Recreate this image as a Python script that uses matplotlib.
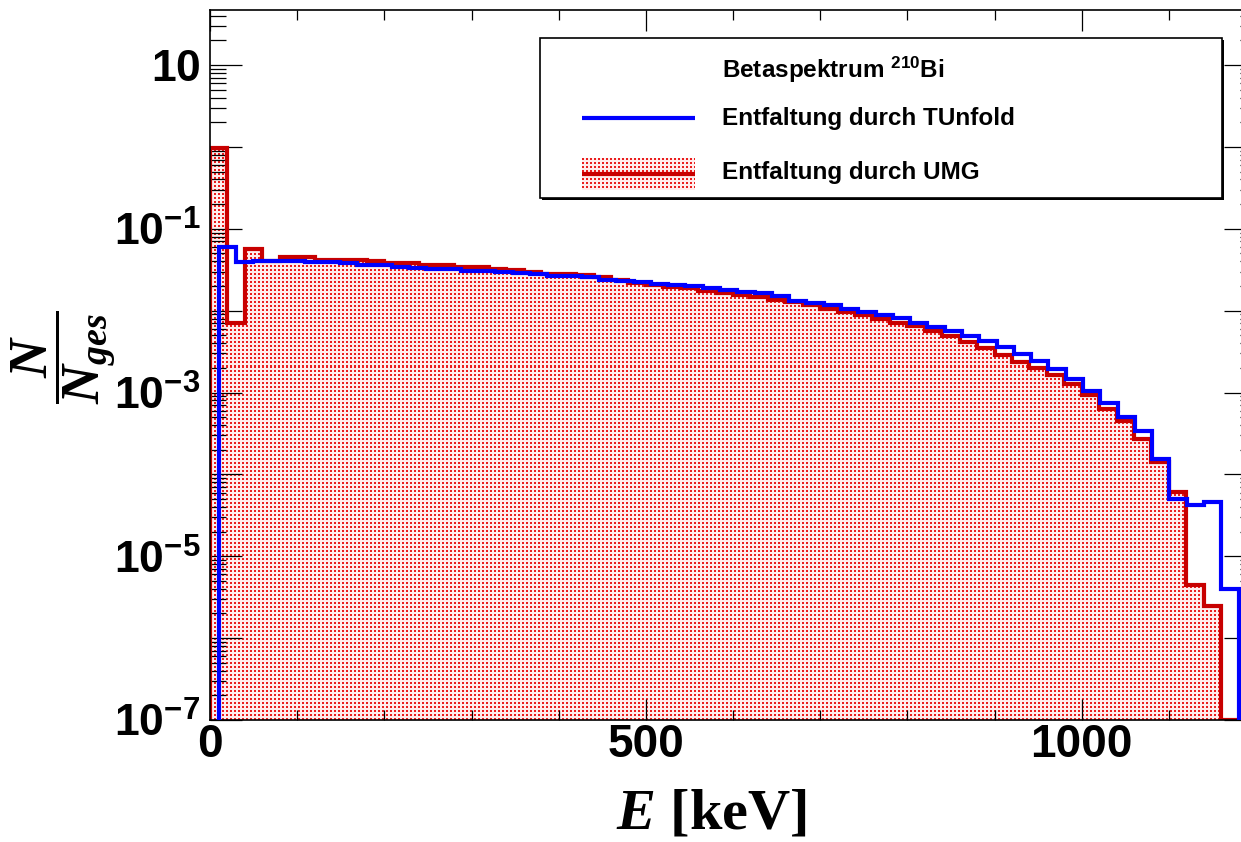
import numpy as np
import matplotlib
matplotlib.use("Agg")
import matplotlib.pyplot as plt
from matplotlib.patches import Rectangle
from matplotlib.ticker import (FixedLocator, MultipleLocator, LogLocator,
                               NullFormatter, FuncFormatter)

plt.rcParams.update({
    "font.family": "Liberation Sans",
    "font.weight": "bold",
    "mathtext.fontset": "custom",
    "mathtext.rm": "Liberation Serif:bold",
    "mathtext.it": "Liberation Serif:italic:bold",
    "mathtext.bf": "Liberation Sans:bold",
    "axes.linewidth": 1.2,
})

# UMG unfolding: 60 bins of 20 keV from 0 to 1200 keV
umg_edges = np.arange(0, 1220, 20)
umg_values = [
    0.96, 0.0070, 0.0560, 0.0403, 0.0455, 0.0451, 0.0418, 0.0418, 0.0411, 0.0406,
    0.0384, 0.0381, 0.0365, 0.0360, 0.0345, 0.0342, 0.0324, 0.0310, 0.0296, 0.0283,
    0.0279, 0.0272, 0.0259, 0.0239, 0.0217, 0.0205, 0.0196, 0.0187, 0.0175, 0.0162,
    0.0155, 0.0145, 0.0134, 0.0127, 0.0117, 0.0106, 0.0096, 0.0088, 0.0080, 0.00713,
    0.00647, 0.00569, 0.00488, 0.00416, 0.00345, 0.00286, 0.00237, 0.00202, 0.00163, 0.00126,
    0.000927, 0.000637, 0.000450, 0.000274, 0.000142, 6.1e-5, 4.4e-6, 2.5e-6, 0.0, 0.0,
]

# TUnfold unfolding: 59 bins between 10 and 1180 keV
tunfold_edges = np.linspace(10, 1180, 60)
tunfold_values = [
    0.0593, 0.0388, 0.0406, 0.0406, 0.0403, 0.0388, 0.0388, 0.0386, 0.0360, 0.0357,
    0.0337, 0.0336, 0.0321, 0.0319, 0.0307, 0.0305, 0.0293, 0.0291, 0.0279, 0.0268,
    0.0265, 0.0255, 0.0240, 0.0231, 0.0221, 0.0211, 0.0205, 0.0200, 0.0187, 0.0178,
    0.0170, 0.0162, 0.0151, 0.0132, 0.0124, 0.0117, 0.0106, 0.00966, 0.0088, 0.00804,
    0.00698, 0.00634, 0.00569, 0.00484, 0.00428, 0.00363, 0.00294, 0.00243, 0.00196, 0.00146,
    0.00105, 0.000746, 0.000504, 0.000340, 0.000153, 5.06e-5, 4.28e-5, 4.60e-5, 4.0e-6,
]

x_major = [0, 500, 1000]
y_exponents = list(range(-7, 2))
y_low, y_high = 1e-7, 47.0
x_low, x_high = 0, 1200

legend_header = r"Betaspektrum $\mathbf{^{210}}$Bi"
legend_tunfold = "Entfaltung durch TUnfold"
legend_umg = "Entfaltung durch UMG"
x_label = r"$E$ [keV]"
y_label = r"$\dfrac{N}{N_{ges}}$"

RED_LINE = "#c80000"
BLUE_LINE = "#0000ff"


def dot_texture(h, w):
    """Fine red dot pattern used as the hatch of the UMG histogram."""
    img = np.empty((h, w, 3))
    img[:] = (1.0, 0.93, 0.93)
    yy, xx = np.mgrid[0:h, 0:w]
    mask = ((yy % 4) // 2 == 0) & ((xx % 4) // 2 == 0)
    img[mask] = (0.92, 0.12, 0.12)
    return img


W, H = 1241, 842
fig = plt.figure(figsize=(W / 100, H / 100), dpi=100)
fig.patch.set_facecolor("white")

# frame in pixels (right edge lies just beyond the canvas)
L, R, T, B = 210, 1256, 10, 720
ax = fig.add_axes([L / W, 1 - B / H, (R - L) / W, (B - T) / H])
ax.set_yscale("log")

umg_plot = np.where(np.asarray(umg_values) > 0, umg_values, y_low)

fill = ax.stairs(umg_plot, umg_edges, baseline=y_low, fill=True,
                 facecolor="none", edgecolor="none", zorder=1)
tex = ax.imshow(dot_texture(B - T, R - L), extent=(0, 1, 0, 1),
                transform=ax.transAxes, interpolation="nearest",
                aspect="auto", zorder=1)
tex.set_clip_path(fill)

ax.stairs(umg_plot, umg_edges, baseline=y_low, color=RED_LINE, lw=3, zorder=2)
ax.stairs(tunfold_values, tunfold_edges, baseline=y_low, color=BLUE_LINE,
          lw=3, zorder=3)

ax.set_xlim(x_low, x_high)
ax.set_ylim(y_low, y_high)

# ticks
ax.xaxis.set_major_locator(FixedLocator(x_major))
ax.xaxis.set_minor_locator(MultipleLocator(100))
ax.yaxis.set_major_locator(FixedLocator([10.0 ** e for e in y_exponents]))
ax.yaxis.set_minor_locator(LogLocator(base=10, subs=np.arange(2, 10), numticks=100))
ax.yaxis.set_minor_formatter(NullFormatter())


def y_fmt(v, pos):
    e = int(round(np.log10(v)))
    if e % 2 == 0:
        return ""
    if e == 1:
        return r"$\mathbf{10}$"
    return r"$\mathbf{10^{%d}}$" % e


ax.yaxis.set_major_formatter(FuncFormatter(y_fmt))

ax.tick_params(axis="both", which="both", direction="in", top=True, right=True,
               width=0.9, color="black")
ax.tick_params(axis="y", which="major", length=23, pad=7, labelsize=32)
ax.tick_params(axis="y", which="minor", length=11.5)
ax.tick_params(axis="x", which="major", length=15, pad=2, labelsize=33)
ax.tick_params(axis="x", which="minor", length=7.5)

# overlay in pixel coordinates for legend and axis titles
ov = fig.add_axes([0, 0, 1, 1], zorder=5)
ov.patch.set_visible(False)
ov.axis("off")

ov.add_patch(Rectangle((542, 40), 682, 160, facecolor="black", edgecolor="none",
                       zorder=1))
ov.add_patch(Rectangle((540, 38), 682, 160, facecolor="white",
                       edgecolor="black", lw=1.2, zorder=2))
ov.plot([582, 695], [118, 118], color=BLUE_LINE, lw=3, solid_capstyle="butt",
        zorder=4)
ov.imshow(dot_texture(32, 113), extent=(582, 695, 190, 158),
          interpolation="nearest", aspect="auto", zorder=3)
ov.plot([582, 695], [174, 174], color=RED_LINE, lw=3, solid_capstyle="butt",
        zorder=4)

ov.text(722, 70, legend_header, fontsize=17.5, fontweight="bold", va="center",
        ha="left", zorder=5)
ov.text(722, 118, legend_tunfold, fontsize=17.5, fontweight="bold", va="center",
        ha="left", zorder=5)
ov.text(722, 172, legend_umg, fontsize=17.5, fontweight="bold", va="center",
        ha="left", zorder=5)

ov.text(712, 815, x_label, fontsize=42, fontfamily="Liberation Serif",
        fontweight="bold", ha="center", va="center")
ov.text(64, 357, y_label, fontsize=39, rotation=90, ha="center", va="center")

ov.set_xlim(0, W)
ov.set_ylim(H, 0)

fig.savefig("out.png", dpi=100)
